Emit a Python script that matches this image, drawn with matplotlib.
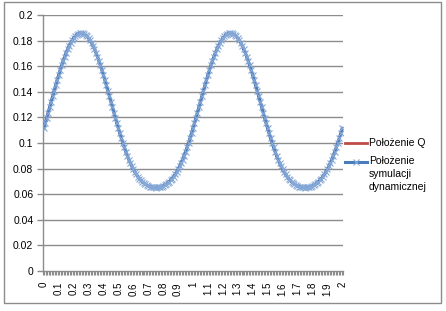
import numpy as np
import matplotlib
matplotlib.use("Agg")
import matplotlib.pyplot as plt
from matplotlib.patches import Rectangle
from matplotlib.lines import Line2D

# ---- data ----
categories = [f"{i/100:g}" for i in range(0, 201)]
tick_labels = ["0", "0.1", "0.2", "0.3", "0.4", "0.5", "0.6", "0.7", "0.8", "0.9", "1",
               "1.1", "1.2", "1.3", "1.4", "1.5", "1.6", "1.7", "1.8", "1.9", "2"]
polozenie_sym = [
    0.1114, 0.1155, 0.1196, 0.1238, 0.1281, 0.1324, 0.1366, 0.1409, 0.1450, 0.1491,
    0.1531, 0.1569, 0.1606, 0.1641, 0.1674, 0.1705, 0.1733, 0.1759, 0.1782, 0.1802,
    0.1819, 0.1833, 0.1844, 0.1852, 0.1857, 0.1859, 0.1857, 0.1852, 0.1844, 0.1833,
    0.1819, 0.1802, 0.1782, 0.1759, 0.1733, 0.1705, 0.1674, 0.1641, 0.1606, 0.1569,
    0.1531, 0.1491, 0.1450, 0.1409, 0.1366, 0.1324, 0.1281, 0.1238, 0.1196, 0.1155,
    0.1114, 0.1075, 0.1036, 0.1000, 0.0965, 0.0932, 0.0900, 0.0871, 0.0843, 0.0818,
    0.0795, 0.0774, 0.0755, 0.0738, 0.0722, 0.0709, 0.0697, 0.0687, 0.0678, 0.0671,
    0.0665, 0.0660, 0.0657, 0.0654, 0.0653, 0.0652, 0.0653, 0.0654, 0.0657, 0.0660,
    0.0665, 0.0671, 0.0678, 0.0687, 0.0697, 0.0709, 0.0722, 0.0738, 0.0755, 0.0774,
    0.0795, 0.0818, 0.0843, 0.0871, 0.0900, 0.0932, 0.0965, 0.1000, 0.1036, 0.1075,
    0.1114,
    0.1155, 0.1196, 0.1238, 0.1281, 0.1324, 0.1366, 0.1409, 0.1450, 0.1491,
    0.1531, 0.1569, 0.1606, 0.1641, 0.1674, 0.1705, 0.1733, 0.1759, 0.1782, 0.1802,
    0.1819, 0.1833, 0.1844, 0.1852, 0.1857, 0.1859, 0.1857, 0.1852, 0.1844, 0.1833,
    0.1819, 0.1802, 0.1782, 0.1759, 0.1733, 0.1705, 0.1674, 0.1641, 0.1606, 0.1569,
    0.1531, 0.1491, 0.1450, 0.1409, 0.1366, 0.1324, 0.1281, 0.1238, 0.1196, 0.1155,
    0.1114, 0.1075, 0.1036, 0.1000, 0.0965, 0.0932, 0.0900, 0.0871, 0.0843, 0.0818,
    0.0795, 0.0774, 0.0755, 0.0738, 0.0722, 0.0709, 0.0697, 0.0687, 0.0678, 0.0671,
    0.0665, 0.0660, 0.0657, 0.0654, 0.0653, 0.0652, 0.0653, 0.0654, 0.0657, 0.0660,
    0.0665, 0.0671, 0.0678, 0.0687, 0.0697, 0.0709, 0.0722, 0.0738, 0.0755, 0.0774,
    0.0795, 0.0818, 0.0843, 0.0871, 0.0900, 0.0932, 0.0965, 0.1000, 0.1036, 0.1075,
    0.1114,
]
polozenie_q = list(polozenie_sym)
series_names = ["Położenie Q", "Położenie\nsymulacji\ndynamicznej"]
y_ticks = [0, 0.02, 0.04, 0.06, 0.08, 0.1, 0.12, 0.14, 0.16, 0.18, 0.2]

plt.rcParams['font.family'] = ['Liberation Sans', 'DejaVu Sans']
W, H = 446, 311
fig = plt.figure(figsize=(W / 100, H / 100), dpi=100)
fig.patch.set_facecolor('white')

def fx(px):
    return px / W

def fy(py):
    return 1 - py / H

# chart border
fig.add_artist(Rectangle((fx(4), fy(303)), fx(441) - fx(4), fy(2) - fy(303),
                         transform=fig.transFigure, fill=False, ec='#8C8C8C', lw=1))

ax = fig.add_axes([fx(43), fy(271), fx(343) - fx(43), fy(15) - fy(271)])
grid_c = '#8C8C8C'
x = np.arange(len(categories))
ax.plot(x, polozenie_q, color='#BE4B48', lw=2, zorder=3)
ax.plot(x, polozenie_sym, color='#4A7EBB', lw=2.2, marker='x', ms=4,
        mec='#86A9D8', mew=0.8, zorder=4)

ax.set_xlim(-0.5, len(categories) - 0.5)
ax.set_ylim(0, 0.2)
ax.set_yticks(y_ticks)
ax.set_yticklabels([f"{v:g}" for v in y_ticks])
for v in y_ticks[1:]:
    ax.axhline(v, color=grid_c, lw=1, zorder=1)

label_pos = [categories.index(l) for l in tick_labels]
ax.set_xticks(label_pos)
ax.set_xticklabels(tick_labels, rotation=90, ha='center', va='top')
ax.set_xticks(np.arange(-0.5, len(categories), 1), minor=True)
ax.tick_params(axis='x', which='major', length=0, pad=8, labelsize=7)
ax.tick_params(axis='x', which='minor', length=3, color=grid_c, width=0.8)
ax.tick_params(axis='y', length=4, color=grid_c, width=1, pad=3, labelsize=7.5)

for s in ['top', 'right']:
    ax.spines[s].set_visible(False)
for s in ['left', 'bottom']:
    ax.spines[s].set_color(grid_c)
    ax.spines[s].set_linewidth(1)

# legend (drawn manually)
fig.add_artist(Line2D([fx(345), fx(367)], [fy(143), fy(143)], transform=fig.transFigure,
                      color='#BE4B48', lw=2))
fig.text(fx(369), fy(143), series_names[0], fontsize=7.5, va='center', ha='left')
fig.add_artist(Line2D([fx(345), fx(367)], [fy(162), fy(162)], transform=fig.transFigure,
                      color='#4A7EBB', lw=2.2))
fig.add_artist(Line2D([fx(356)], [fy(162)], transform=fig.transFigure,
                      color='#4A7EBB', marker='x', ms=4, mec='#86A9D8', mew=0.8, lw=0))
fig.text(fx(369), fy(156), series_names[1], fontsize=7.5, va='top', ha='left',
         linespacing=1.35)

fig.savefig('out.png', dpi=100)
